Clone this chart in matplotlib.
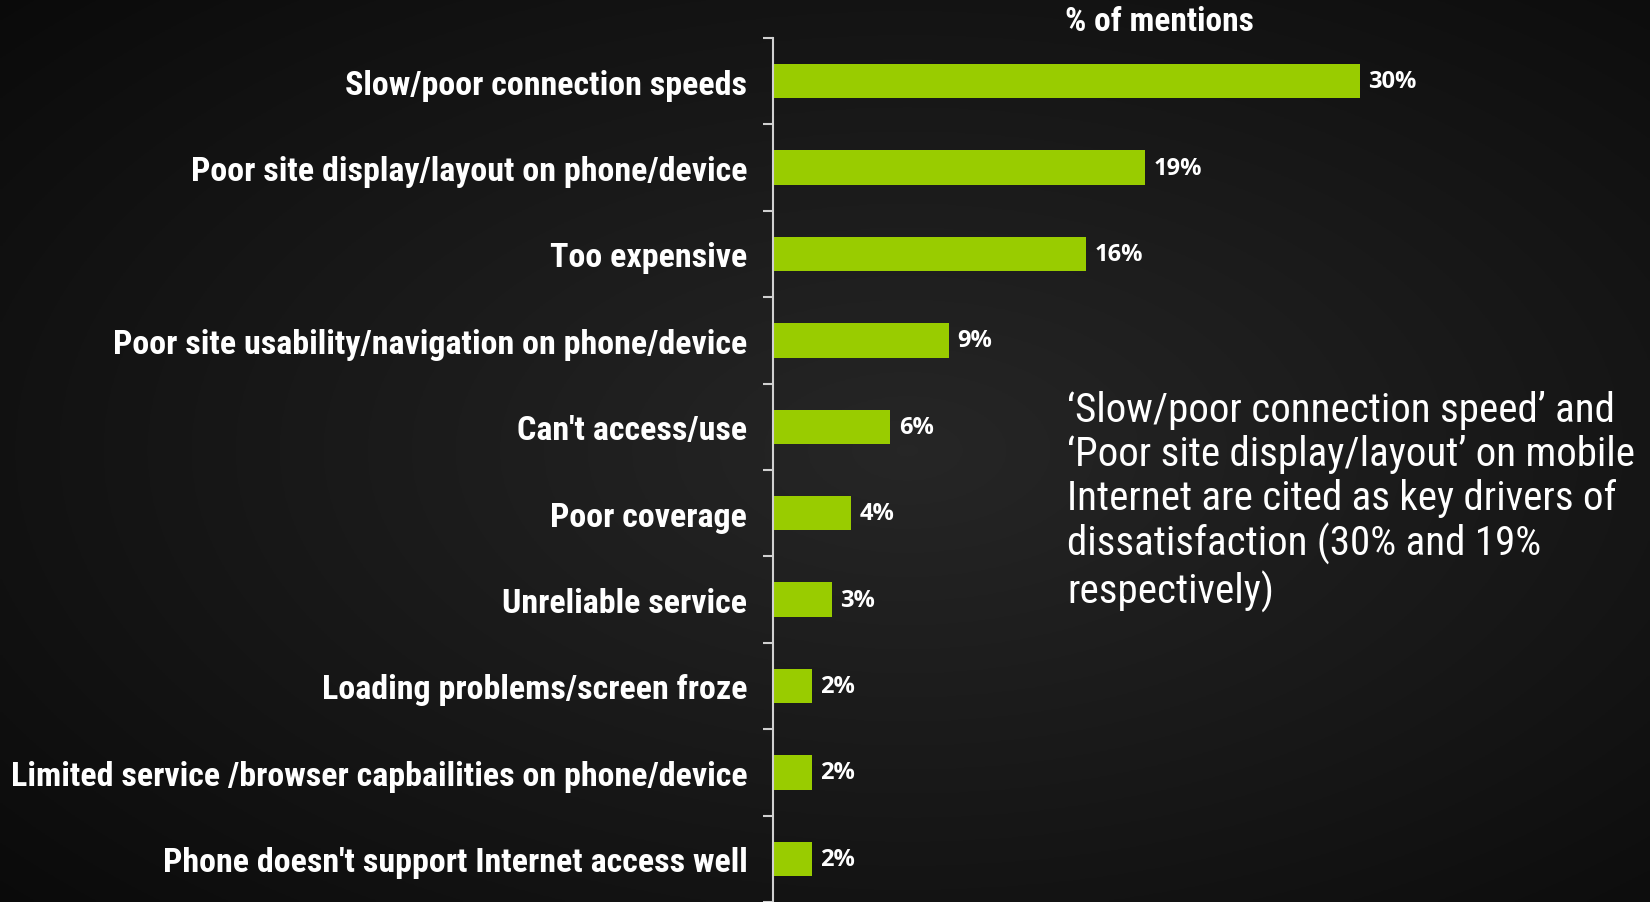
import numpy as np
import matplotlib
matplotlib.use("Agg")
import matplotlib.pyplot as plt

reasons = [
    "Slow/poor connection speeds",
    "Poor site display/layout on phone/device",
    "Too expensive",
    "Poor site usability/navigation on phone/device",
    "Can't access/use",
    "Poor coverage",
    "Unreliable service",
    "Loading problems/screen froze",
    "Limited service /browser capbailities on phone/device",
    "Phone doesn't support Internet access well",
]
mentions = [30, 19, 16, 9, 6, 4, 3, 2, 2, 2]

note = ("\u2018Slow/poor connection speed\u2019 and\n"
        "\u2018Poor site display/layout\u2019 on mobile\n"
        "Internet are cited as key drivers of\n"
        "dissatisfaction (30% and 19%\n"
        "respectively)")

FONT = ["Roboto Condensed", "DejaVu Sans"]
NUM_FONT = ["Open Sans", "DejaVu Sans"]
BAR = "#99cc00"
LINE = "#d0d0d0"

fig = plt.figure(figsize=(16.5, 9.03), dpi=100)

# dark radial backdrop
bg = fig.add_axes([0, 0, 1, 1], zorder=-1)
yy, xx = np.mgrid[0:1:300j, 0:1:550j]
r = np.sqrt(((xx - 0.55) / 0.75) ** 2 + ((yy - 0.5) / 0.75) ** 2)
shade = np.clip(0.15 - 0.11 * r, 0.03, 0.16)
bg.imshow(np.dstack([shade] * 3), aspect="auto", extent=[0, 1, 0, 1])
bg.set_axis_off()

ax = fig.add_axes([773 / 1650, 0, 0.5, 1 - 39 / 903])
ax.patch.set_alpha(0)
y = np.arange(len(reasons))
ax.barh(y, mentions, height=0.4, color=BAR)
ax.set_ylim(len(reasons) - 0.5, -0.5)
ax.set_xlim(0, 30 * 825 / 587)

for yi, v in zip(y, mentions):
    ax.annotate(f"{v}%", (v, yi), xytext=(6, 0), textcoords="offset points",
                va="center", ha="left", color="white",
                fontsize=17, fontweight="bold", family=NUM_FONT)

ax.set_yticks(y)
ax.set_yticklabels(reasons, family=FONT, fontsize=24.5, fontweight="bold", color="white")
ax.tick_params(axis="y", which="major", length=0, pad=18.5)
ax.set_yticks(np.arange(-0.5, len(reasons)), minor=True)
ax.tick_params(axis="y", which="minor", length=7, width=1.5, color=LINE)
ax.set_xticks([])
for side in ["top", "right", "bottom"]:
    ax.spines[side].set_visible(False)
ax.spines["left"].set_color(LINE)
ax.spines["left"].set_linewidth(1.5)

fig.text(1159 / 1650, 1 - 22 / 903, "% of mentions", ha="center", va="center",
         color="white", fontsize=24, fontweight="bold", family=FONT)
fig.text(1067 / 1650, 1 - 391 / 903, note, ha="left", va="top", color="white",
         fontsize=29.5, linespacing=1.16, family=FONT)

fig.savefig("out.png", dpi=100)
